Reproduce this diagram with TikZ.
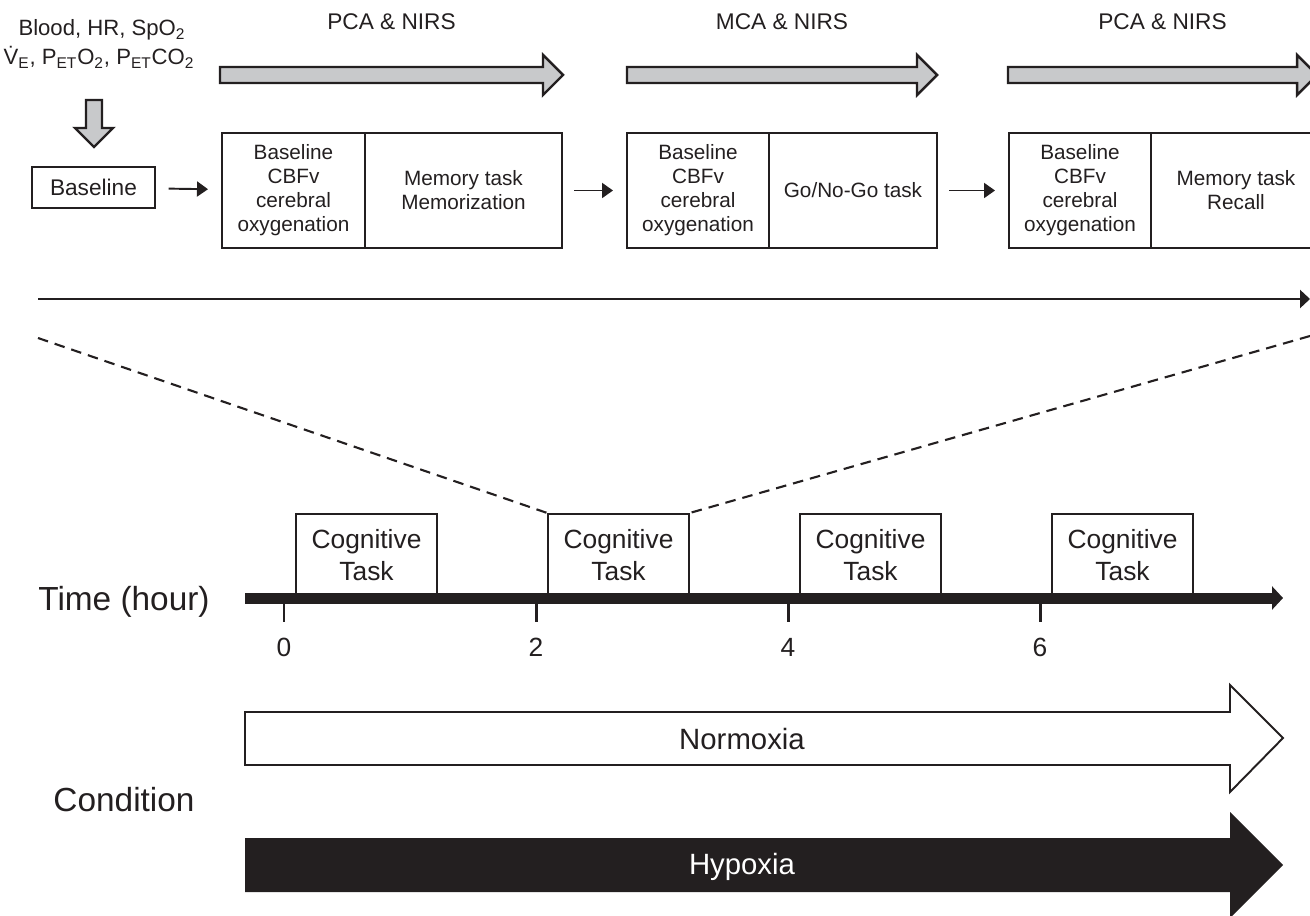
\documentclass[tikz,border=0pt]{standalone}
\usepackage{fontspec}
\setmainfont{Liberation Sans}
\usetikzlibrary{arrows.meta,positioning}

\definecolor{ink}{HTML}{231F20}
\definecolor{arrowgray}{RGB}{200,201,203}

\begin{document}
\begin{tikzpicture}[x=0.02cm, y=-0.02cm,
    every node/.style={text=ink},
    toptext/.style={font=\fontsize{11.8}{13.7}\selectfont, align=center},
    labeltext/.style={font=\fontsize{12.9}{15}\selectfont, align=center},
    colbox/.style={toptext, draw=ink, line width=1.3pt, minimum height=2.3cm, inner sep=0pt, outer sep=0pt},
    flow/.style={draw=ink, line width=1.1pt, -{Triangle[length=0.22cm,width=0.3cm]}, shorten <=0.25cm, shorten >=0.28cm},
    bigarrow/.style={draw=ink, line width=1.4pt, fill=arrowgray, line join=miter},
    cogbox/.style={draw=ink, line width=1.3pt, fill=white, minimum width=2.82cm, minimum height=1.64cm, inner sep=0pt, align=center, font=\fontsize{15}{18.2}\selectfont},
    bigtext/.style={font=\fontsize{19}{22}\selectfont},
    condtext/.style={font=\fontsize{16.7}{20}\selectfont},
    ticklabel/.style={font=\fontsize{15}{18}\selectfont}]
  \useasboundingbox (0,0) rectangle (1310,915);

  \node[labeltext, font=\fontsize{12.6}{15}\selectfont, anchor=base] (bloodline) at (102,36) {Blood, HR, SpO\textsubscript{2}};
  \node[labeltext, font=\fontsize{12.6}{15}\selectfont, anchor=base] (gasline) at (99,65) {\.{V}\textsubscript{E}, P\textsubscript{ET}O\textsubscript{2}, P\textsubscript{ET}CO\textsubscript{2}};
  \draw[bigarrow] (86,100) -- (102,100) -- (102,128) -- (113,128) -- (94,147) -- (75,128) -- (86,128) -- cycle;

  \foreach \xs/\xe/\lbl [count=\i] in {220/563/PCA \& NIRS, 627/937/MCA \& NIRS, 1008/1317/PCA \& NIRS} {
    \draw[bigarrow] (\xs,67) -- (\xe-20,67) -- (\xe-20,55) -- (\xe,75) -- (\xe-20,95) -- (\xe-20,83) -- (\xs,83) -- cycle;
    \node[labeltext] (probe\i) at ({(\xs+\xe)/2},22) {\lbl};
  }

  \node[labeltext, draw=ink, line width=1.3pt, minimum width=2.46cm, minimum height=0.82cm] (base) at (93.5,187.5) {Baseline};

  \node[colbox, minimum width=2.86cm] (b1a) at (293.5,190.5) {Baseline\\CBFv\\cerebral\\oxygenation};
  \node[colbox, minimum width=3.94cm, right=0pt of b1a] (b1b) {Memory task\\Memorization};
  \node[colbox, minimum width=2.84cm] (b2a) at (698,190.5) {Baseline\\CBFv\\cerebral\\oxygenation};
  \node[colbox, minimum width=3.36cm, right=0pt of b2a] (b2b) {Go/No-Go task};
  \node[colbox, minimum width=2.84cm] (b3a) at (1080,190.5) {Baseline\\CBFv\\cerebral\\oxygenation};
  \node[colbox, minimum width=3.4cm, right=0pt of b3a] (b3b) {Memory task\\Recall};

  \draw[flow] (base) -- (b1a);
  \draw[flow] (b1b) -- (b2a);
  \draw[flow] (b2b) -- (b3a);

  \coordinate (tl) at (38,299);
  \coordinate (tr) at (1310,299);
  \draw[draw=ink, line width=1.4pt, -{Triangle[length=0.2cm,width=0.36cm]}] (tl) -- (tr);

  \foreach \h [count=\i from 0] in {0,2,4,6} {
    \node[cogbox] (cog\i) at ({366.5+126*\h},555) {Cognitive\\Task};
  }

  \coordinate (dl) at (38,338);
  \coordinate (dr) at (1310,336);
  \draw[draw=ink, line width=1.2pt, dash pattern=on 6pt off 4pt] (dl) -- (cog1.north west);
  \draw[draw=ink, line width=1.2pt, dash pattern=on 6pt off 4pt] (dr) -- (cog1.north east);

  \coordinate (axisstart) at (245,598);
  \coordinate (axisend) at (1283,598);
  \draw[draw=ink, line width=0.22cm, -{Triangle[length=0.22cm,width=0.46cm]}] (axisstart) -- (axisend);

  \foreach \h in {0,2,4,6} {
    \draw[draw=ink, line width=1.7pt] ({284+126*\h},603) -- ({284+126*\h},622);
    \node[ticklabel] (hour\h) at ({284+126*\h},647) {\h};
  }

  \node[bigtext] (timelabel) at (124,602) {Time (hour)};
  \node[bigtext] (condlabel) at (124,800) {Condition};

  \draw[draw=ink, line width=1.1pt, fill=white, line join=miter] (245,712) -- (1230,712) -- (1230,685) -- (1283,738) -- (1230,792) -- (1230,765) -- (245,765) -- cycle;
  \node[condtext] (normoxia) at (742,739) {Normoxia};
  \fill[ink] (245,838) -- (1230,838) -- (1230,812) -- (1283,865) -- (1230,918) -- (1230,892) -- (245,892) -- cycle;
  \node[condtext, text=white] (hypoxia) at (742,867) {Hypoxia};
\end{tikzpicture}
\end{document}
